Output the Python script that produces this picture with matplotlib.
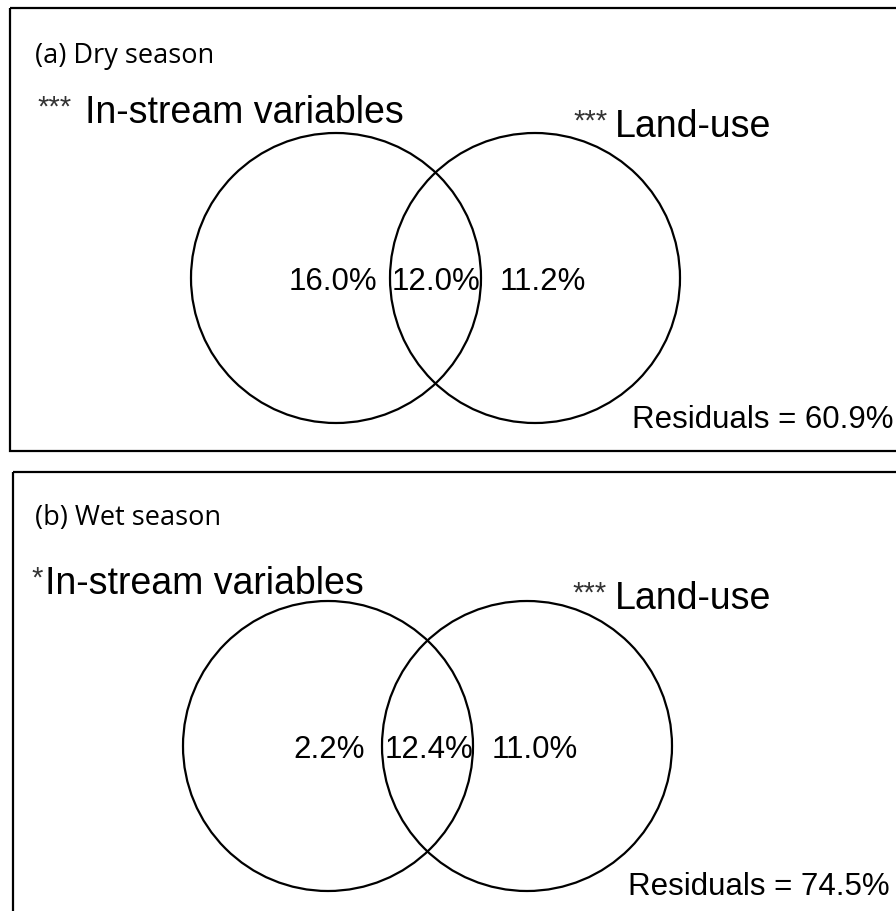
import matplotlib
matplotlib.use("Agg")
import matplotlib.pyplot as plt
from matplotlib.patches import Circle, Rectangle

# ---- data ----
panel_titles = ["(a) Dry season", "(b) Wet season"]
instream_sig = ["***", "*"]
landuse_sig = ["***", "***"]
set_names = ["In-stream variables", "Land-use"]
instream_only = [16.0, 2.2]
shared = [12.0, 12.4]
landuse_only = [11.2, 11.0]
residuals = [60.9, 74.5]

# ---- layout (pixels) ----
W, H = 896, 911
fig = plt.figure(figsize=(W / 100, H / 100), dpi=100)
ax = fig.add_axes([0, 0, 1, 1])
ax.set_xlim(0, W)
ax.set_ylim(H, 0)
ax.axis("off")

boxes = [(10, 8, 900, 451), (13, 472, 900, 925)]
left_c = [(336, 278), (328, 746)]
right_c = [(535, 278), (527, 746)]
radius = 145
title_xy = [(35, 56), (35, 518)]
in_xy = [(37, 85, 123), (31, 45, 594)]
land_xy = [(573, 615, 137), (572, 615, 609)]
pct_x = [(333, 436, 543), (329, 429, 535)]
res_xy = [(632, 428), (628, 895)]

arial = "Liberation Sans"
big = 27
mid = 22.5
star = 21

for i in range(2):
    x0, y0, x1, y1 = boxes[i]
    ax.add_patch(Rectangle((x0, y0), x1 - x0, y1 - y0, fill=False,
                           lw=1.6, ec="black", clip_on=False))
    for c in (left_c[i], right_c[i]):
        ax.add_patch(Circle(c, radius, fill=False, lw=1.6, ec="black"))
    ax.text(title_xy[i][0], title_xy[i][1], panel_titles[i], family="Open Sans",
            fontsize=19.5, ha="left", va="center")
    sx, tx, by = in_xy[i]
    ax.text(sx, by - 7, instream_sig[i], family=arial, fontsize=star,
            ha="left", va="baseline", color="#333333")
    ax.text(tx, by, set_names[0], family=arial, fontsize=big,
            ha="left", va="baseline")
    sx, tx, by = land_xy[i]
    ax.text(sx, by - 7, landuse_sig[i], family=arial, fontsize=star,
            ha="left", va="baseline", color="#333333")
    ax.text(tx, by, set_names[1], family=arial, fontsize=big,
            ha="left", va="baseline")
    cy = left_c[i][1]
    vals = [instream_only[i], shared[i], landuse_only[i]]
    for x, v in zip(pct_x[i], vals):
        ax.text(x, cy + 12, f"{v:.1f}%", family=arial, fontsize=mid,
                ha="center", va="baseline")
    ax.text(res_xy[i][0], res_xy[i][1], f"Residuals = {residuals[i]:.1f}%",
            family=arial, fontsize=mid, ha="left", va="baseline")

fig.savefig("out.png", dpi=100)
